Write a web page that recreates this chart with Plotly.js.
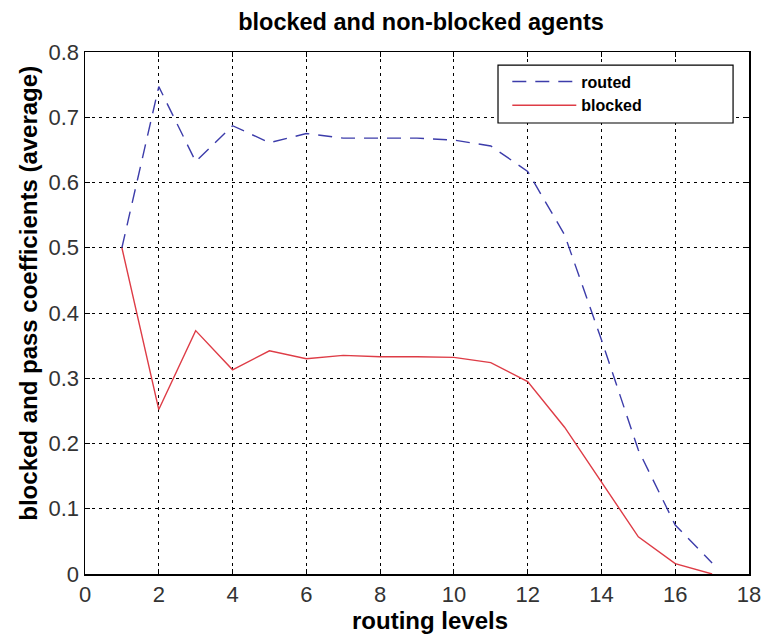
<!DOCTYPE html>
<html>
<head>
<meta charset="utf-8">
<script src="https://cdn.plot.ly/plotly-3.0.1.min.js"></script>
<style>html,body{margin:0;padding:0;background:#fff;}#chart{width:762px;height:635px;}</style>
</head>
<body>
<div id="chart"></div>
<script>
const levels = [1, 2, 3, 4, 5, 6, 7, 8, 9, 10, 11, 12, 13, 14, 15, 16, 17];
const routed = [0.5, 0.747, 0.632, 0.687, 0.661, 0.675, 0.668, 0.668, 0.668, 0.665, 0.656, 0.617, 0.52, 0.359, 0.19, 0.075, 0.017];
const blocked = [0.5, 0.252, 0.373, 0.313, 0.342, 0.330, 0.335, 0.333, 0.333, 0.332, 0.324, 0.295, 0.225, 0.14, 0.057, 0.016, 0.0];
const xTicks = [0, 2, 4, 6, 8, 10, 12, 14, 16, 18];
const yTicks = [0, 0.1, 0.2, 0.3, 0.4, 0.5, 0.6, 0.7, 0.8];
const yTickText = ['0', '0.1', '0.2', '0.3', '0.4', '0.5', '0.6', '0.7', '0.8'];
const chartTitle = 'blocked and non-blocked agents';
const xTitle = 'routing levels';
const yTitle = 'blocked and pass coefficients (average)';

const font = 'Liberation Sans, Arial, sans-serif';
const narrow = 'Liberation Sans Narrow, Arial Narrow, Liberation Sans, sans-serif';
const traces = [
  {x: levels, y: routed, name: 'routed', mode: 'lines', type: 'scatter',
   line: {color: 'rgb(60,60,170)', width: 1.4, dash: '14px,9px'}},
  {x: levels, y: blocked, name: 'blocked', mode: 'lines', type: 'scatter',
   line: {color: 'rgb(222,60,70)', width: 1.4}}
];
const axisCommon = {
  showline: true, linecolor: '#000', linewidth: 1.5, mirror: 'ticks',
  ticks: 'inside', ticklen: 5, tickcolor: '#000', tickwidth: 1,
  showgrid: true, gridcolor: '#000', gridwidth: 1, griddash: '3px,4px',
  zeroline: false, tickfont: {family: narrow, size: 22, color: '#333'}
};
const titleFont = {family: font, size: 24, color: '#000', weight: 'bold'};
const layout = {
  width: 762, height: 635,
  margin: {l: 85, r: 13, t: 52, b: 61},
  paper_bgcolor: '#fff', plot_bgcolor: '#fff',
  title: {text: chartTitle, xref: 'paper', x: 0.506, xanchor: 'center', y: 0.965, yanchor: 'middle',
          font: {family: font, size: 23.5, color: '#000', weight: 'bold'}},
  xaxis: Object.assign({}, axisCommon, {
    range: [0, 18], tickvals: xTicks, ticktext: xTicks.map(String)
  }),
  yaxis: Object.assign({}, axisCommon, {
    range: [0, 0.8], tickvals: yTicks, ticktext: yTickText
  }),
  annotations: [
    {text: xTitle, xref: 'paper', yref: 'paper', x: 0.5196, y: -0.089, xanchor: 'center', yanchor: 'middle',
     showarrow: false, font: titleFont},
    {text: yTitle, xref: 'paper', yref: 'paper', x: -0.0843, y: 0.537, xanchor: 'center', yanchor: 'middle',
     textangle: -90, showarrow: false, font: titleFont}
  ],
  shapes: [{type: 'rect', xref: 'paper', yref: 'paper', x0: 0.622, x1: 0.976, y0: 0.864, y1: 0.975,
            fillcolor: '#fff', line: {color: '#000', width: 1.2}, layer: 'above'}],
  showlegend: true,
  legend: {x: 0.636, y: 0.976, xanchor: 'left', yanchor: 'top',
           bgcolor: 'rgba(0,0,0,0)', borderwidth: 0,
           font: {family: font, size: 16, color: '#000', weight: 'bold'},
           itemwidth: 64, tracegroupgap: 0}
};
Plotly.newPlot('chart', traces, layout, {staticPlot: true, displayModeBar: false});
</script>
</body>
</html>
